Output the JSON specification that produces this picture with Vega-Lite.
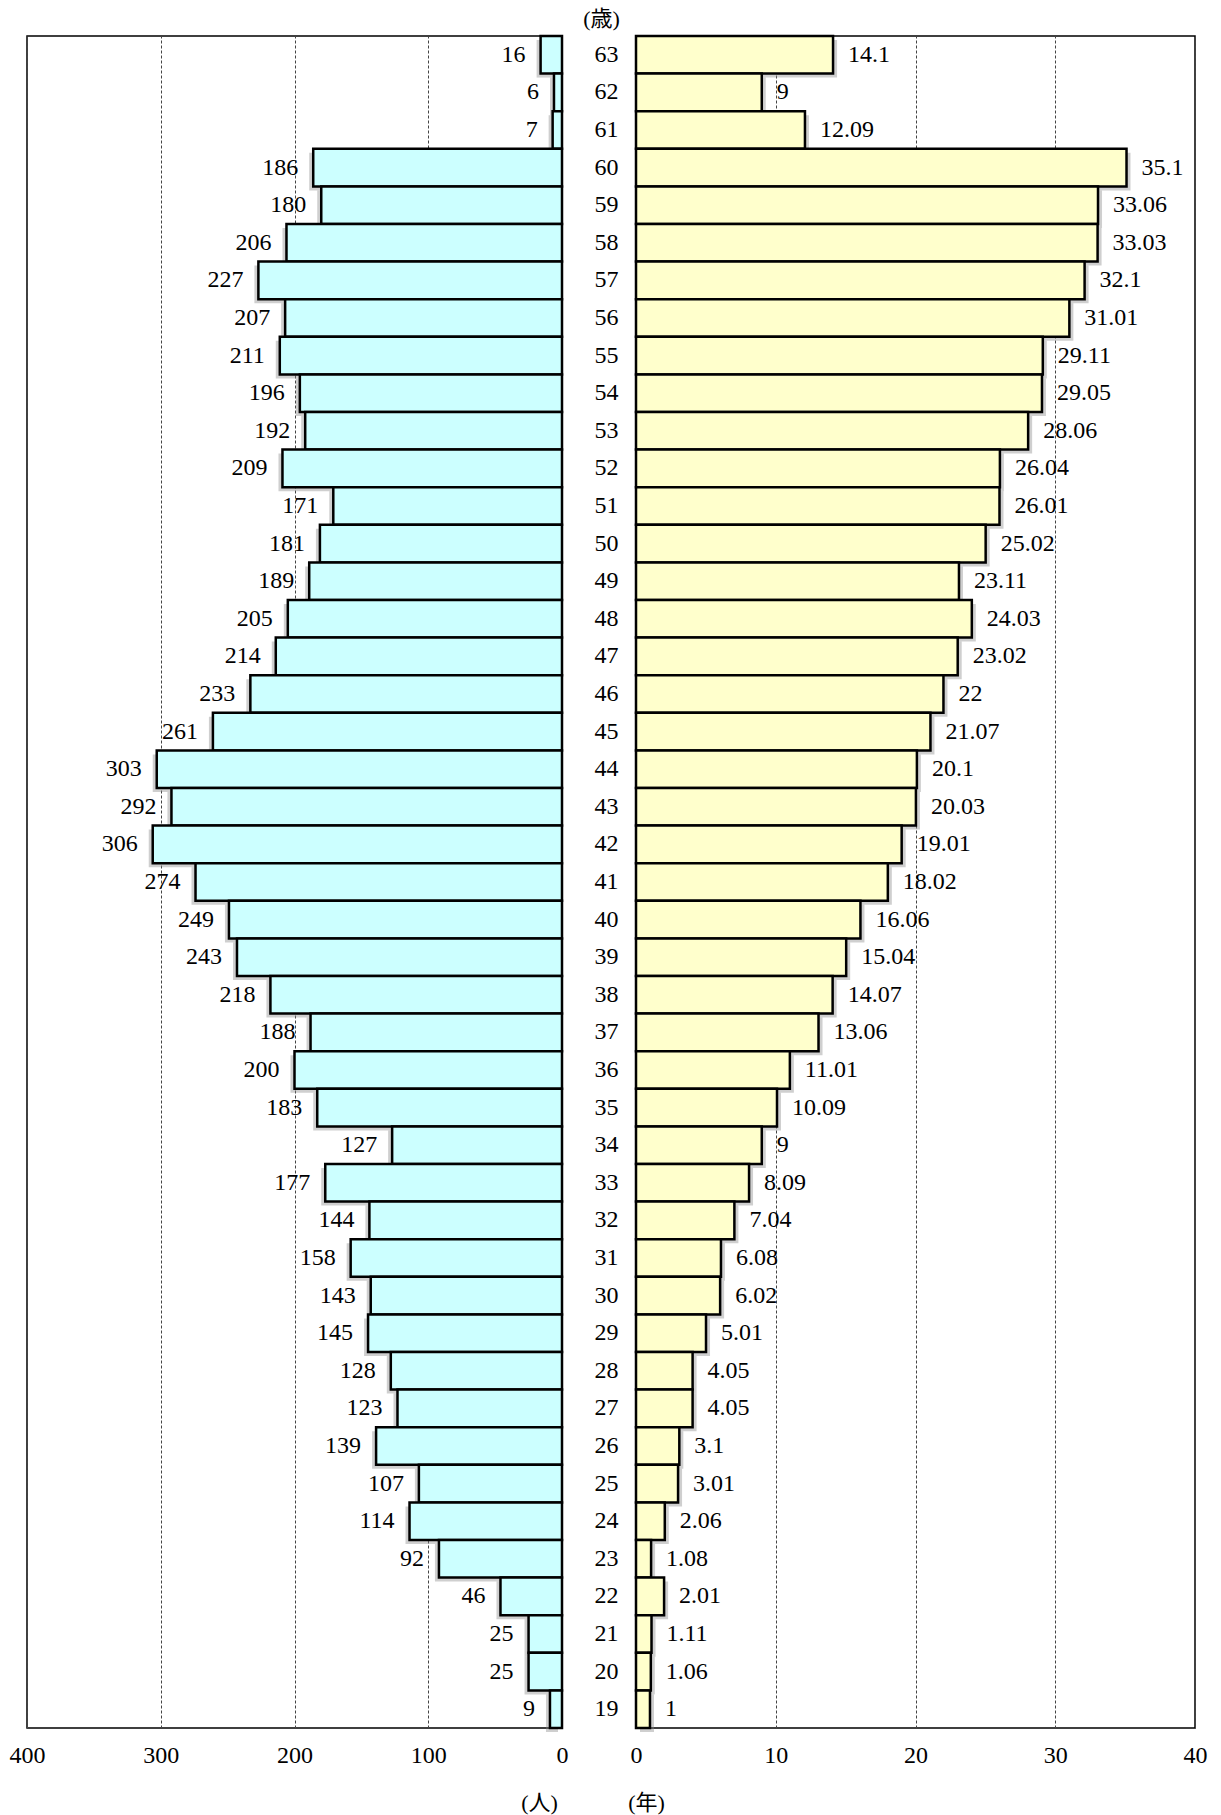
{
  "$schema": "https://vega.github.io/schema/vega-lite/v6.json",
  "background": "white",
  "padding": {"left": 8, "top": 6, "right": 5, "bottom": 5},
  "bounds": "flush",
  "spacing": 74,
  "data": {"values": [
    {"age": 63, "count": 16, "years": 14.1, "ylabel": "14.1"},
    {"age": 62, "count": 6, "years": 9, "ylabel": "9"},
    {"age": 61, "count": 7, "years": 12.09, "ylabel": "12.09"},
    {"age": 60, "count": 186, "years": 35.1, "ylabel": "35.1"},
    {"age": 59, "count": 180, "years": 33.06, "ylabel": "33.06"},
    {"age": 58, "count": 206, "years": 33.03, "ylabel": "33.03"},
    {"age": 57, "count": 227, "years": 32.1, "ylabel": "32.1"},
    {"age": 56, "count": 207, "years": 31.01, "ylabel": "31.01"},
    {"age": 55, "count": 211, "years": 29.11, "ylabel": "29.11"},
    {"age": 54, "count": 196, "years": 29.05, "ylabel": "29.05"},
    {"age": 53, "count": 192, "years": 28.06, "ylabel": "28.06"},
    {"age": 52, "count": 209, "years": 26.04, "ylabel": "26.04"},
    {"age": 51, "count": 171, "years": 26.01, "ylabel": "26.01"},
    {"age": 50, "count": 181, "years": 25.02, "ylabel": "25.02"},
    {"age": 49, "count": 189, "years": 23.11, "ylabel": "23.11"},
    {"age": 48, "count": 205, "years": 24.03, "ylabel": "24.03"},
    {"age": 47, "count": 214, "years": 23.02, "ylabel": "23.02"},
    {"age": 46, "count": 233, "years": 22, "ylabel": "22"},
    {"age": 45, "count": 261, "years": 21.07, "ylabel": "21.07"},
    {"age": 44, "count": 303, "years": 20.1, "ylabel": "20.1"},
    {"age": 43, "count": 292, "years": 20.03, "ylabel": "20.03"},
    {"age": 42, "count": 306, "years": 19.01, "ylabel": "19.01"},
    {"age": 41, "count": 274, "years": 18.02, "ylabel": "18.02"},
    {"age": 40, "count": 249, "years": 16.06, "ylabel": "16.06"},
    {"age": 39, "count": 243, "years": 15.04, "ylabel": "15.04"},
    {"age": 38, "count": 218, "years": 14.07, "ylabel": "14.07"},
    {"age": 37, "count": 188, "years": 13.06, "ylabel": "13.06"},
    {"age": 36, "count": 200, "years": 11.01, "ylabel": "11.01"},
    {"age": 35, "count": 183, "years": 10.09, "ylabel": "10.09"},
    {"age": 34, "count": 127, "years": 9, "ylabel": "9"},
    {"age": 33, "count": 177, "years": 8.09, "ylabel": "8.09"},
    {"age": 32, "count": 144, "years": 7.04, "ylabel": "7.04"},
    {"age": 31, "count": 158, "years": 6.08, "ylabel": "6.08"},
    {"age": 30, "count": 143, "years": 6.02, "ylabel": "6.02"},
    {"age": 29, "count": 145, "years": 5.01, "ylabel": "5.01"},
    {"age": 28, "count": 128, "years": 4.05, "ylabel": "4.05"},
    {"age": 27, "count": 123, "years": 4.05, "ylabel": "4.05"},
    {"age": 26, "count": 139, "years": 3.1, "ylabel": "3.1"},
    {"age": 25, "count": 107, "years": 3.01, "ylabel": "3.01"},
    {"age": 24, "count": 114, "years": 2.06, "ylabel": "2.06"},
    {"age": 23, "count": 92, "years": 1.08, "ylabel": "1.08"},
    {"age": 22, "count": 46, "years": 2.01, "ylabel": "2.01"},
    {"age": 21, "count": 25, "years": 1.11, "ylabel": "1.11"},
    {"age": 20, "count": 25, "years": 1.06, "ylabel": "1.06"},
    {"age": 19, "count": 9, "years": 1, "ylabel": "1"}
  ]},
  "config": {
    "font": "Liberation Serif, Noto Sans CJK JP",
    "view": {"stroke": "black", "strokeWidth": 1.5},
    "axis": {
      "labelFont": "Liberation Serif, Noto Sans CJK JP",
      "labelFontSize": 24,
      "labelColor": "black",
      "labelFlush": false,
      "labelOverlap": false,
      "titleFont": "Liberation Serif, Noto Sans CJK JP",
      "titleFontSize": 22,
      "titleFontWeight": "normal",
      "titleColor": "black",
      "domain": false,
      "ticks": false,
      "tickSize": 0,
      "gridColor": "#444444",
      "gridDash": [3, 2],
      "gridWidth": 1
    },
    "text": {"fontSize": 24, "font": "Liberation Serif, Noto Sans CJK JP", "color": "black"}
  },
  "hconcat": [
    {
      "width": 535,
      "height": 1692,
      "encoding": {
        "y": {"field": "age", "type": "ordinal", "sort": "descending",
              "scale": {"paddingInner": 0, "paddingOuter": 0}, "axis": null},
        "x": {"field": "count", "type": "quantitative",
              "scale": {"domain": [0, 400], "reverse": true, "nice": false},
              "axis": {"values": [0, 100, 200, 300, 400], "grid": true, "labelPadding": 15,
                       "title": "(人)", "titleX": 512, "titleY": 74, "titleAngle": 0,
                       "titleAlign": "center", "titleBaseline": "middle"}}
      },
      "layer": [
        {"mark": {"type": "bar", "color": "#888888", "opacity": 0.4, "xOffset": -4, "yOffset": 4}},
        {"mark": {"type": "bar", "fill": "#CCFFFF", "stroke": "black", "strokeWidth": 2.5}},
        {"mark": {"type": "text", "align": "right", "baseline": "middle", "dx": -15},
         "encoding": {"text": {"field": "count", "type": "quantitative"}}}
      ]
    },
    {
      "width": 559,
      "height": 1692,
      "encoding": {
        "y": {"field": "age", "type": "ordinal", "sort": "descending",
              "scale": {"paddingInner": 0, "paddingOuter": 0},
              "axis": {"labelAlign": "center", "labelPadding": 30, "grid": false,
                       "title": "(歳)", "titleX": -35, "titleY": -18, "titleAngle": 0,
                       "titleAlign": "center", "titleBaseline": "middle"}},
        "x": {"field": "years", "type": "quantitative",
              "scale": {"domain": [0, 40], "nice": false},
              "axis": {"values": [0, 10, 20, 30, 40], "grid": true, "labelPadding": 15,
                       "title": "(年)", "titleX": 10, "titleY": 74, "titleAngle": 0,
                       "titleAlign": "center", "titleBaseline": "middle"}}
      },
      "layer": [
        {"mark": {"type": "bar", "color": "#888888", "opacity": 0.4, "xOffset": 4, "yOffset": 4}},
        {"mark": {"type": "bar", "fill": "#FFFFCC", "stroke": "black", "strokeWidth": 2.5}},
        {"mark": {"type": "text", "align": "left", "baseline": "middle", "dx": 15},
         "encoding": {"text": {"field": "ylabel", "type": "nominal"}}}
      ]
    }
  ]
}
